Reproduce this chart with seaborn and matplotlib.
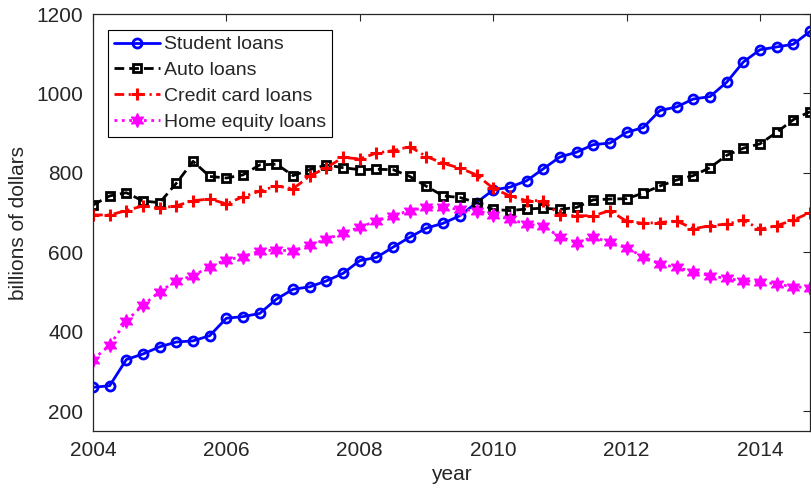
import numpy as np
import pandas as pd
import matplotlib
matplotlib.use("Agg")
import matplotlib.pyplot as plt
import seaborn as sns

# quarterly observations, 2004 Q1 .. 2014 Q4 (first 44 quarters)
start_year = 2004
n_quarters = 44
years = start_year + np.arange(n_quarters) / 4.0

student = [260, 264, 330, 344, 362, 374, 377, 390, 434, 438, 446, 482,
           507, 513, 528, 547, 579, 587, 613, 638, 661, 673, 692, 725,
           757, 764, 780, 810, 840, 852, 871, 875, 902, 914, 957, 966,
           986, 992, 1028, 1079, 1110, 1117, 1124, 1156]
auto = [719, 742, 750, 729, 725, 774, 829, 791, 787, 795, 820, 822,
        793, 808, 820, 813, 808, 809, 808, 791, 766, 742, 738, 725,
        708, 705, 709, 711, 708, 713, 732, 734, 735, 749, 767, 782,
        793, 813, 844, 862, 873, 902, 934, 954]
credit = [694, 694, 705, 717, 711, 717, 730, 734, 722, 740, 754, 767,
          760, 792, 813, 839, 835, 850, 856, 866, 841, 824, 812, 795,
          761, 742, 730, 730, 694, 692, 692, 705, 678, 673, 675, 679,
          659, 667, 671, 681, 658, 667, 681, 700]
home = [330, 366, 427, 467, 501, 528, 541, 564, 581, 589, 603, 606,
        603, 618, 633, 648, 663, 679, 692, 705, 713, 713, 708, 705,
        694, 683, 671, 666, 639, 624, 638, 625, 611, 589, 570, 562,
        551, 541, 534, 528, 526, 520, 513, 511]

labels = ["Student loans", "Auto loans", "Credit card loans", "Home equity loans"]
xticks = [2004, 2006, 2008, 2010, 2012, 2014]
yticks = [200, 400, 600, 800, 1000, 1200]

sns.set_theme(style="white")
plt.rcParams["font.family"] = ["Liberation Sans", "DejaVu Sans"]
axc = "#262626"

fig = plt.figure(figsize=(8.12, 4.96), dpi=100)
ax = fig.add_axes([93 / 812, 1 - 431 / 496, (810 - 93) / 812, (431 - 14) / 496])

styles = [
    dict(color="#0000ff", linestyle="-", marker="o", markersize=6.5,
         markerfacecolor="none", markeredgecolor="#0000ff", markeredgewidth=2.0),
    dict(color="#000000", linestyle=(0, (3.5, 1.8)), marker="s", markersize=6,
         markerfacecolor="none", markeredgecolor="#000000", markeredgewidth=2.0),
    dict(color="#ff0000", linestyle=(0, (3.5, 1.6, 0.8, 1.6)), marker="+", markersize=8,
         markeredgecolor="#ff0000", markeredgewidth=2.2),
    dict(color="#ff00ff", linestyle=":", marker=(6, 1, 0), markersize=10,
         markerfacecolor="#ff00ff", markeredgecolor="#ff00ff", markeredgewidth=1.0),
]

for series, lab, st in zip([student, auto, credit, home], labels, styles):
    df = pd.DataFrame({"year": years, "value": series})
    sns.lineplot(data=df, x="year", y="value", ax=ax, label=lab,
                 linewidth=2.0, sort=False, **st)

ax.set_xlim(2004, 2014.75)
ax.set_ylim(150, 1200)
ax.set_xticks(xticks)
ax.set_yticks(yticks)
ax.set_xticklabels([str(t) for t in xticks])
ax.set_yticklabels([str(t) for t in yticks])
ax.tick_params(direction="in", length=5, width=0.8, colors=axc,
               labelsize=15, top=True, right=True, pad=7)
for sp in ax.spines.values():
    sp.set_visible(True)
    sp.set_color(axc)
    sp.set_linewidth(0.9)

ax.set_xlabel("year", fontsize=15, color=axc, labelpad=4)
ax.set_ylabel("billions of dollars", fontsize=15, color=axc, labelpad=6)
ax.grid(False)

leg = ax.legend(loc="upper left", bbox_to_anchor=(108 / 812, 1 - 30 / 496),
                bbox_transform=fig.transFigure, borderaxespad=0,
                fontsize=14, frameon=True, fancybox=False, framealpha=1,
                edgecolor="#000000", handlelength=2.4, handletextpad=0.2,
                labelspacing=0.42, borderpad=0.3)
leg.get_frame().set_linewidth(0.8)

fig.savefig("out.png", dpi=100)
